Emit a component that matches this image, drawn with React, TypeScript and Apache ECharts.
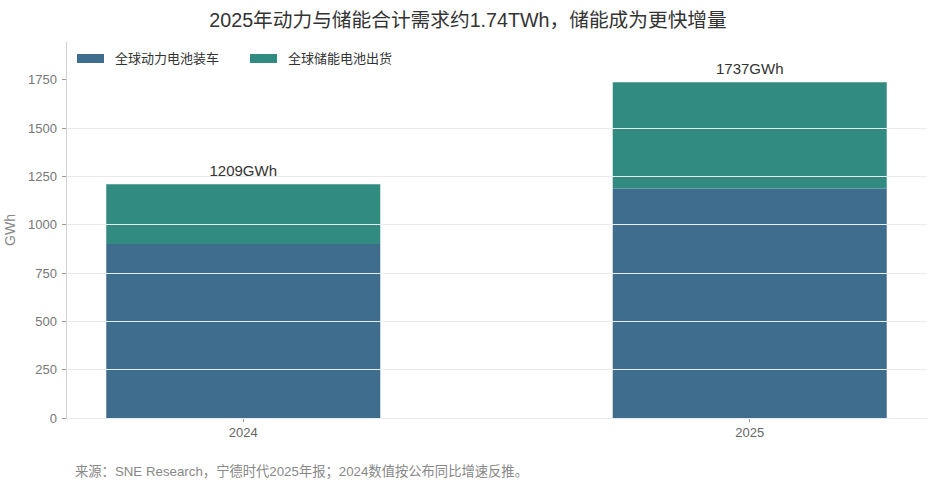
import React, { useEffect, useRef } from "react";
import * as echarts from "echarts";

const years = ["2024", "2025"];
const powerBattery = [900, 1187];
const storageBattery = [309, 550];
const totals = [1209, 1737];
const seriesNames = ["全球动力电池装车", "全球储能电池出货"];
const yTicks = [0, 250, 500, 750, 1000, 1250, 1500, 1750];

const FONT = '"Liberation Sans", "Noto Sans CJK SC", sans-serif';

export default function App() {
  const ref = useRef<HTMLDivElement>(null);
  useEffect(() => {
    document.body.style.margin = "0";
    const chart = echarts.init(ref.current!, null, { renderer: "svg" });
    chart.setOption({
      animation: false,
      backgroundColor: "#ffffff",
      textStyle: { fontFamily: FONT },
      title: {
        text: "2025年动力与储能合计需求约1.74TWh，储能成为更快增量",
        left: "center",
        top: 5,
        textStyle: { fontSize: 19.7, fontWeight: "normal", color: "#333333", fontFamily: FONT },
      },
      legend: {
        left: 72,
        top: 47,
        itemWidth: 27,
        itemHeight: 9,
        itemGap: 31,
        icon: "rect",
        textStyle: { fontSize: 13, color: "#333333", padding: [0, 0, 0, 6], fontFamily: FONT },
        data: seriesNames,
      },
      grid: { left: 66, right: 9, top: 42, bottom: 72, containLabel: false, outerBoundsMode: "none" },
      xAxis: {
        type: "value",
        min: -0.35,
        max: 1.35,
        splitLine: { show: false },
        axisLine: { show: true, onZero: false, lineStyle: { color: "#d0d0d0" } },
        axisTick: { show: true, customValues: [0, 1], length: 4, lineStyle: { color: "#999999" } },
        axisLabel: {
          customValues: [0, 1],
          formatter: (v: number) => years[Math.round(v)] ?? "",
          fontSize: 13,
          color: "#666666",
          margin: 8,
          fontFamily: FONT,
        },
      },
      yAxis: {
        type: "value",
        min: 0,
        max: 1945,
        interval: 250,
        z: 5,
        name: "GWh",
        nameLocation: "middle",
        nameRotate: 90,
        nameGap: 45,
        nameTextStyle: { fontSize: 14, color: "#888888", fontFamily: FONT },
        axisLine: { show: true, onZero: false, lineStyle: { color: "#d0d0d0" } },
        axisTick: { show: true, length: 4, customValues: yTicks, lineStyle: { color: "#999999" } },
        axisLabel: {
          fontSize: 13,
          color: "#777777",
          margin: 9,
          fontFamily: FONT,
          customValues: yTicks,
          formatter: (v: number) => String(v),
        },
        splitLine: { show: true, showMaxLine: false, lineStyle: { color: "#e9ecef", width: 1 } },
      },
      series: [
        {
          name: seriesNames[0],
          type: "bar",
          stack: "total",
          barWidth: 274,
          itemStyle: { color: "#3e6d8e" },
          encode: { x: 1, y: 0 },
          data: powerBattery.map((v, i) => [v, i]),
        },
        {
          name: seriesNames[1],
          type: "bar",
          stack: "total",
          barWidth: 274,
          itemStyle: { color: "#318b80" },
          encode: { x: 1, y: 0 },
          label: {
            show: true,
            position: "top",
            distance: 6,
            fontSize: 15,
            color: "#333333",
            fontFamily: FONT,
            formatter: (p: any) => `${totals[p.dataIndex]}GWh`,
          },
          data: storageBattery.map((v, i) => [v, i]),
        },
      ],
      graphic: [
        {
          type: "text",
          left: 75,
          top: 465,
          style: {
            text: "来源：SNE Research，宁德时代2025年报；2024数值按公布同比增速反推。",
            fontSize: 13.3,
            fill: "#888888",
            fontFamily: FONT,
          },
        },
      ],
    });
    return () => chart.dispose();
  }, []);
  return <div ref={ref} style={{ width: 936, height: 490 }} />;
}
